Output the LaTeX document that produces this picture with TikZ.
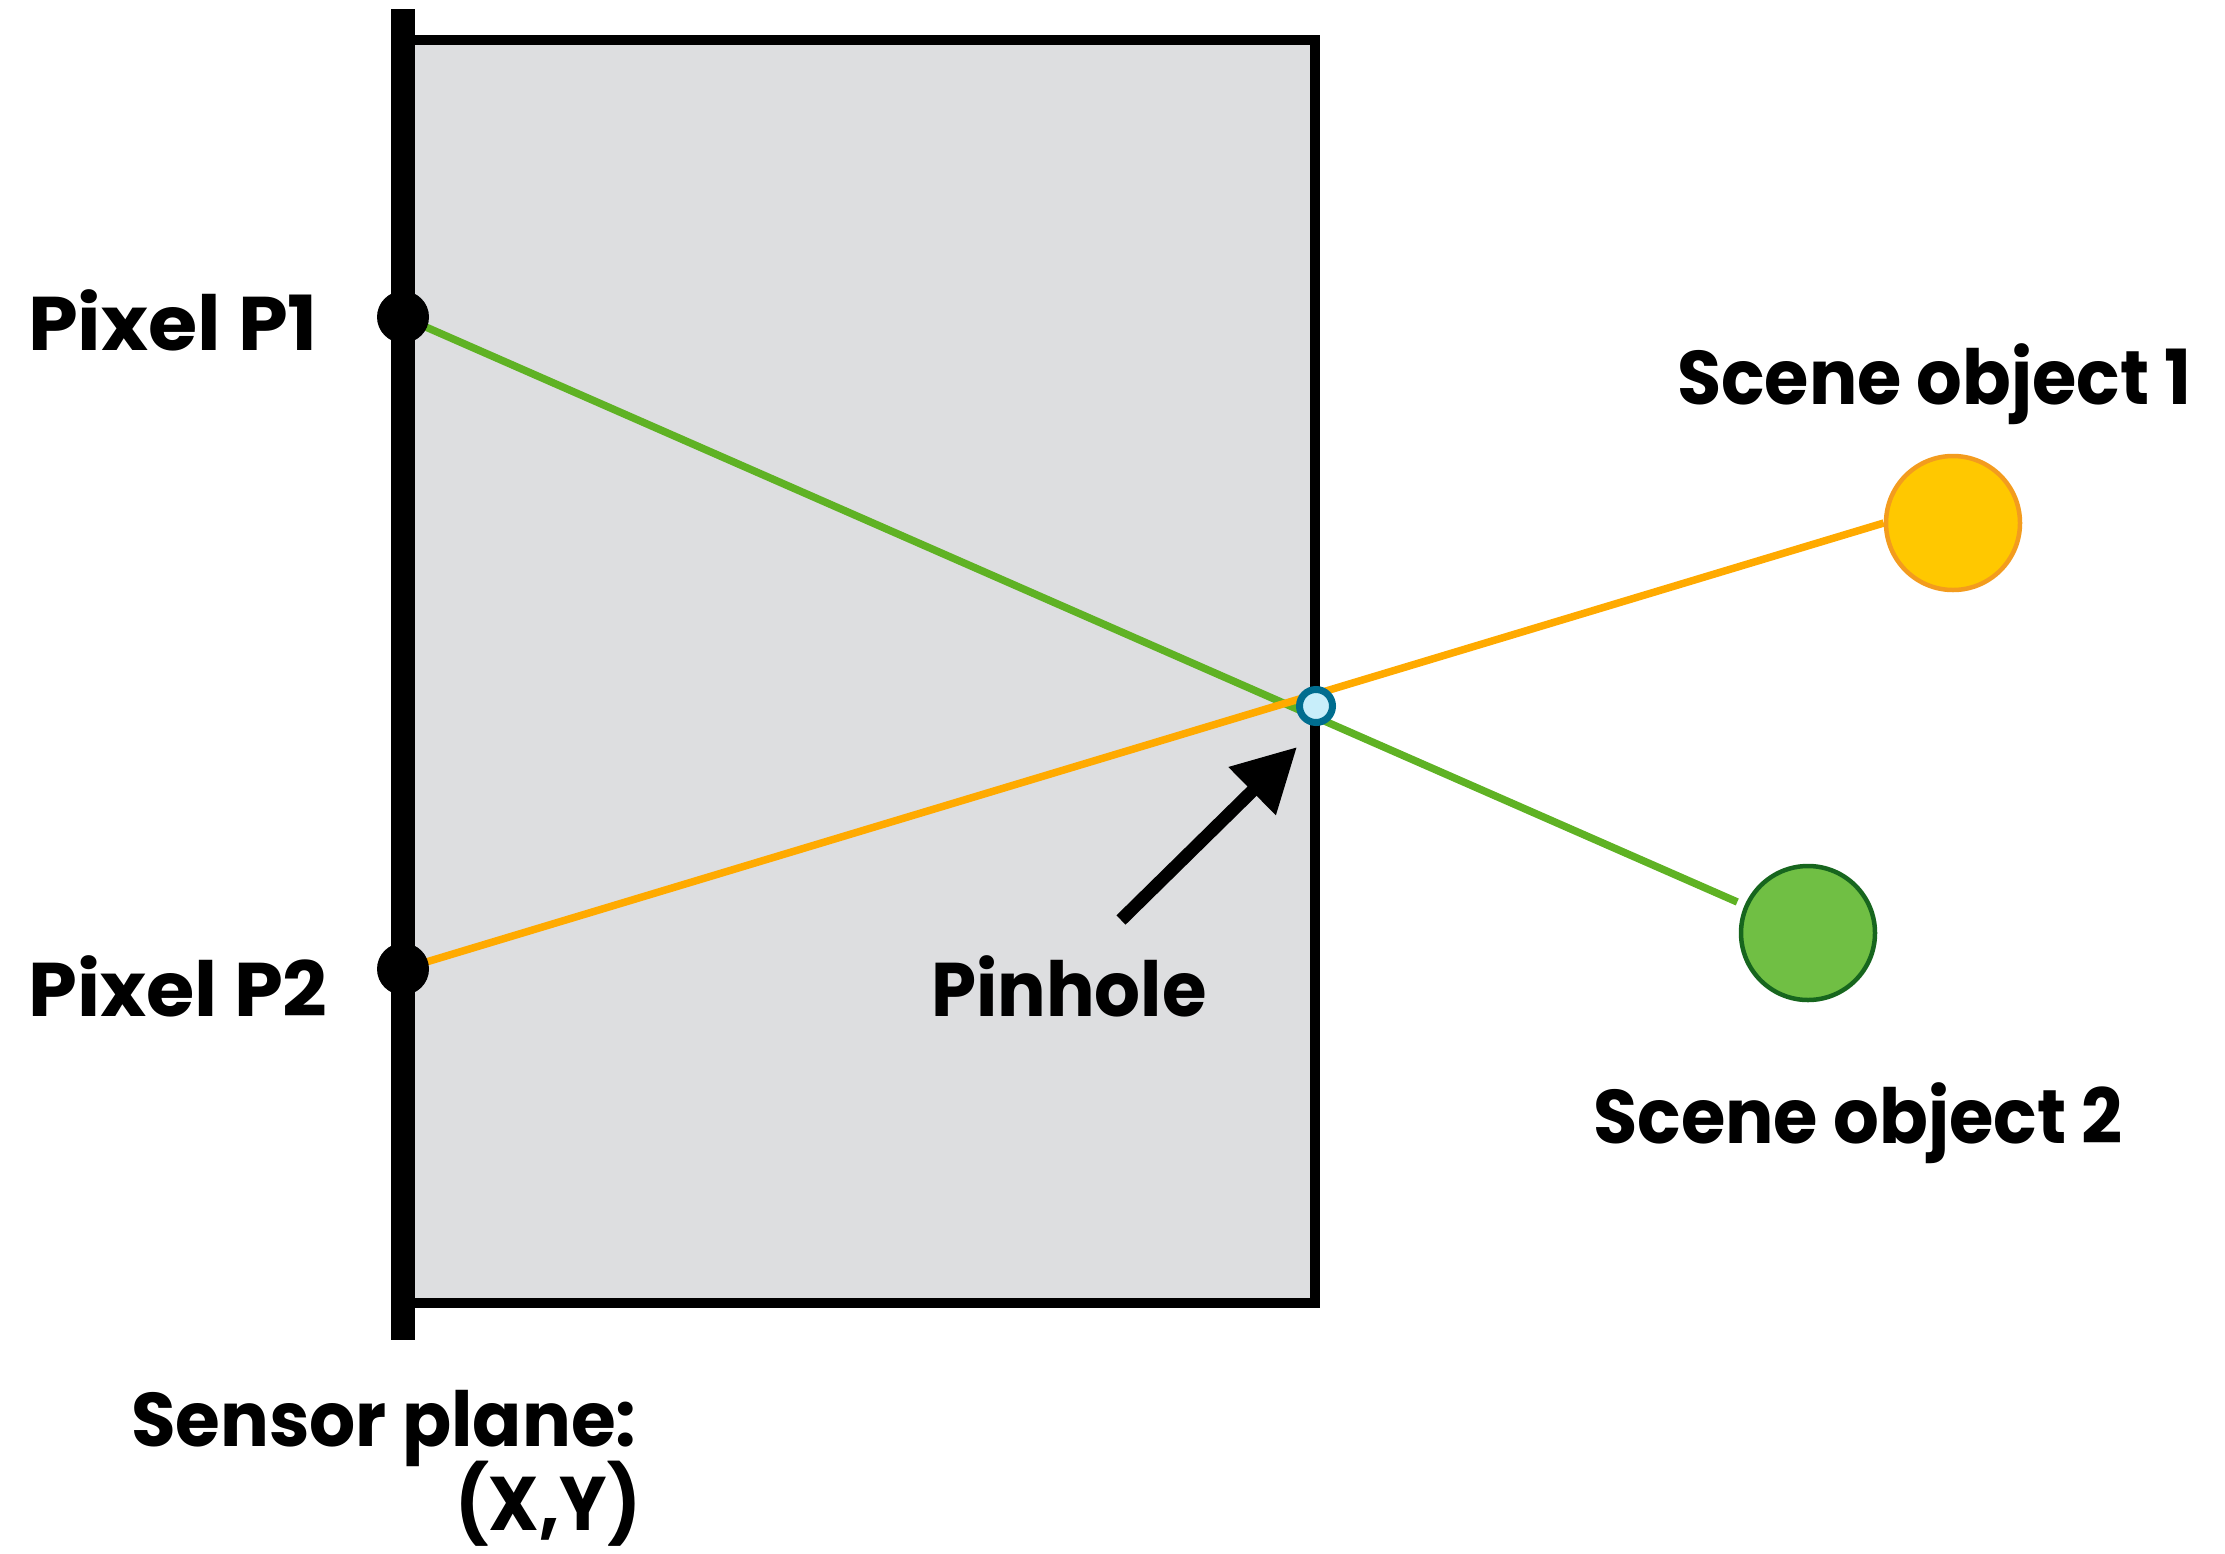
\documentclass[tikz,border=0pt]{standalone}
\usepackage{fontspec}
\setmainfont{Poppins}
\usetikzlibrary{arrows.meta,backgrounds}
\definecolor{boxgray}{HTML}{DDDEE0}
\definecolor{raygreen}{HTML}{5FB224}
\definecolor{rayorange}{HTML}{FFAA00}
\definecolor{objafill}{HTML}{FFC800}
\definecolor{objaedge}{HTML}{F39C1E}
\definecolor{objbfill}{HTML}{70BF44}
\definecolor{objbedge}{HTML}{17661E}
\definecolor{pinfill}{HTML}{C8EEFA}
\definecolor{pinedge}{HTML}{006D8F}
\tikzset{
  lbl/.style={font=\fontsize{76}{80}\selectfont\bfseries, inner sep=0pt, text=black},
  pixdot/.style={circle, fill=black, minimum size=52pt, inner sep=0pt},
  sceneobj/.style={circle, minimum size=134pt, inner sep=0pt, line width=4.5pt},
  ray/.style={line width=7.5pt},
}
\begin{document}
\begin{tikzpicture}[x=1pt,y=-1pt]
\useasboundingbox (0,0) rectangle (2225,1553);
% nodes
\node[pixdot] (p1) at (403,317) {};
\node[pixdot] (p2) at (403,969) {};
\node[circle, fill=pinfill, draw=pinedge, line width=7pt, minimum size=33pt, inner sep=0pt] (pin) at (1316,706) {};
\node[sceneobj, fill=objafill, draw=objaedge] (oa) at (1953,523) {};
\node[sceneobj, fill=objbfill, draw=objbedge] (ob) at (1808,933) {};
\coordinate (stop) at (403,9);
\coordinate (sbot) at (403,1340);
\begin{pgfonlayer}{background}
  \draw[fill=boxgray, draw=black, line width=10.7pt] (403,40) rectangle (1315,1303);
  \draw[line width=24pt] (stop) -- (sbot);
  \draw[ray, raygreen, shorten >=8pt] (p1.center) -- (ob);
  \draw[ray, rayorange] (p2.center) -- (oa.west);
\end{pgfonlayer}
% arrow
\coordinate (atail) at (1121,920);
\coordinate (atip) at (1297,747);
\draw[line width=13pt, -{Triangle[length=63pt,width=64pt]}] (atail) -- (atip);
% labels
\node[lbl, anchor=base west] (tp1) at (28,350) {\scalebox{1.05}[1]{Pixel P1}};
\node[lbl, anchor=base west] (tp2) at (28,1016) {\scalebox{1.03}[1]{Pixel P2}};
\node[lbl, anchor=base west] (tpin) at (931,1016) {\scalebox{0.95}[1]{Pinhole}};
\node[lbl, anchor=base west] (toa) at (1677,404) {\scalebox{0.945}[1]{Scene object 1}};
\node[lbl, anchor=base west] (tob) at (1593,1143) {\scalebox{0.947}[1]{Scene object 2}};
\node[lbl, anchor=base west] (tsens) at (131,1446) {\scalebox{0.954}[1]{Sensor plane:}};
\node[lbl, anchor=base east] (txy) at (641,1530) {\scalebox{0.93}[1]{(X,Y)}};
\end{tikzpicture}
\end{document}
